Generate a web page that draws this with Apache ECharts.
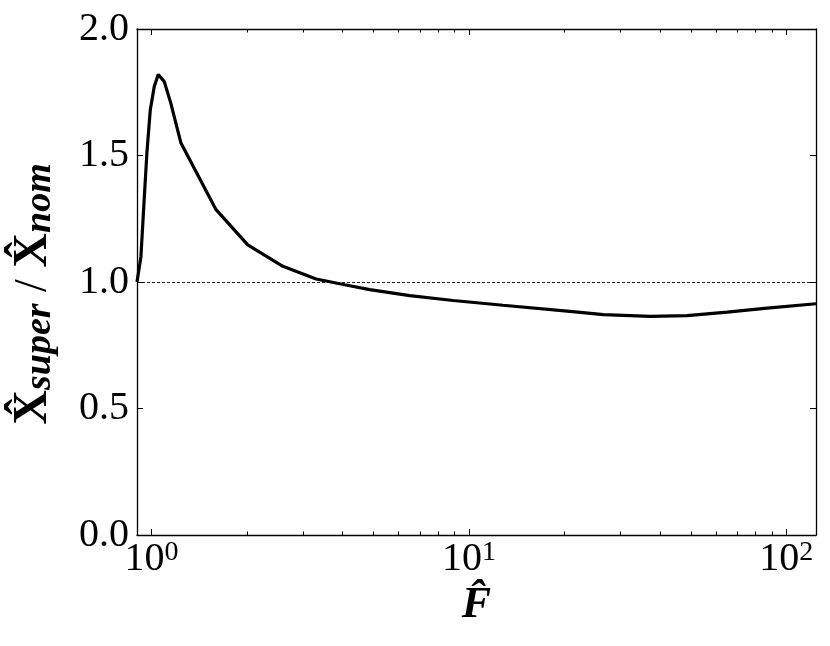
<!DOCTYPE html>
<html><head><meta charset="utf-8">
<script src="https://cdn.jsdelivr.net/npm/echarts@6/dist/echarts.min.js"></script>
<style>html,body{margin:0;padding:0;background:#fff}#c{width:830px;height:646px}</style>
</head><body><div id="c"></div>
<script>
// ---- data ----
const forceHat = [0.9, 0.926, 0.948, 0.967, 0.991, 1.02, 1.05, 1.097, 1.15, 1.238, 1.597, 2.01, 2.593, 3.30, 4.06, 4.87, 6.51, 8.92, 12.8, 20.8, 26.5, 37.3, 48.7, 65.1, 87, 124];
const ratio    = [1.0, 1.10, 1.325, 1.51, 1.68, 1.773, 1.82, 1.792, 1.707, 1.549, 1.286, 1.147, 1.062, 1.012, 0.989, 0.970, 0.946, 0.927, 0.908, 0.884, 0.871, 0.864, 0.867, 0.881, 0.897, 0.914];
const xRange = [0.9, 124];
const yRange = [0, 2.0];
const yTickStep = 0.5;
const xMajorTicks = [1, 10, 100];
const xMajorExponents = ['0', '1', '2'];
const xMinorTicks = [2, 3, 4, 5, 6, 7, 8, 9, 20, 30, 40, 50, 60, 70, 80, 90];
const referenceLevel = 1.0;
const xTitle = 'F\u0302';
const yTitleParts = ['X\u0302', 'super', ' / ', 'X\u0302', 'nom'];

// ---- chart ----
const lg = v => Math.log10(v);
const xMin = lg(xRange[0]), xMax = lg(xRange[1]);
const majorLog = xMajorTicks.map(lg);
const minorLog = xMinorTicks.map(lg);
const lineData = forceHat.map((f, i) => [lg(f), ratio[i]]);

const BLACK = '#000';
const serif = 'Liberation Serif';
const axisLine = { show: true, onZero: false, lineStyle: { color: BLACK, width: 1.3 } };
const noLine = { show: false, onZero: false };

function xAxisDef(pos, values, len, withLabels, showLine) {
  const a = {
    type: 'value', position: pos, min: xMin, max: xMax,
    axisLine: showLine ? axisLine : noLine,
    axisTick: { show: true, inside: true, length: len, customValues: values, lineStyle: { color: BLACK, width: 1 } },
    splitLine: { show: false },
    axisLabel: { show: false }
  };
  if (withLabels) {
    a.axisLabel = {
      show: true, customValues: values, margin: 4,
      formatter: v => {
        const i = majorLog.findIndex(m => Math.abs(m - v) < 1e-9);
        return '{b|10}{s|' + xMajorExponents[i] + '}';
      },
      rich: {
        b: { fontFamily: serif, fontSize: 40, lineHeight: 40, color: BLACK },
        s: { fontFamily: serif, fontSize: 28, lineHeight: 22, verticalAlign: 'top', color: BLACK }
      }
    };
    a.name = '{t|' + xTitle + '}';
    a.nameLocation = 'middle';
    a.nameGap = 34;
    a.nameTextStyle = { rich: { t: { fontFamily: serif, fontSize: 44, fontWeight: 'bold', fontStyle: 'italic', color: BLACK } } };
  }
  return a;
}

function yAxisDef(pos, withLabels) {
  const a = {
    type: 'value', position: pos, min: yRange[0], max: yRange[1], interval: yTickStep,
    axisLine: axisLine,
    axisTick: { show: true, inside: true, length: 6, lineStyle: { color: BLACK, width: 1 } },
    splitLine: { show: false },
    axisLabel: { show: false }
  };
  if (withLabels) {
    a.axisLabel = { show: true, margin: 8, fontFamily: serif, fontSize: 40, color: BLACK, formatter: v => v.toFixed(1) };
    a.name = '{x|' + yTitleParts[0] + '}{sub|' + yTitleParts[1] + '}{sl|' + yTitleParts[2] + '}{x|' + yTitleParts[3] + '}{sub|' + yTitleParts[4] + '}';
    a.nameLocation = 'middle';
    a.nameRotate = 90;
    a.nameGap = 78;
    a.nameTextStyle = {
      padding: [0, 24, 0, 0],
      rich: {
        x: { fontFamily: serif, fontSize: 48, fontWeight: 'bold', lineHeight: 50, color: BLACK },
        sub: { fontFamily: serif, fontSize: 38, fontWeight: 'bold', fontStyle: 'italic', lineHeight: 32, verticalAlign: 'bottom', color: BLACK },
        sl: { fontFamily: serif, fontSize: 46, lineHeight: 50, color: BLACK }
      }
    };
  }
  return a;
}

const chart = echarts.init(document.getElementById('c'), null, { renderer: 'canvas' });
chart.setOption({
  backgroundColor: '#fff',
  animation: false,
  grid: { left: 137, right: 14, top: 29, bottom: 111, containLabel: false, outerBoundsMode: 'none' },
  xAxis: [
    xAxisDef('bottom', majorLog, 6, true, true),
    xAxisDef('bottom', minorLog, 3.5, false, false),
    xAxisDef('top', majorLog, 6, false, true),
    xAxisDef('top', minorLog, 3.5, false, false)
  ],
  yAxis: [yAxisDef('left', true), yAxisDef('right', false)],
  series: [{
    type: 'line', xAxisIndex: 0, yAxisIndex: 0,
    data: lineData, showSymbol: false, symbol: 'none', smooth: false,
    lineStyle: { color: BLACK, width: 3.2 },
    markLine: {
      silent: true, symbol: ['none', 'none'], label: { show: false },
      lineStyle: { color: BLACK, width: 0.9, type: [3, 2] },
      data: [{ yAxis: referenceLevel }]
    }
  }]
});
</script></body></html>
